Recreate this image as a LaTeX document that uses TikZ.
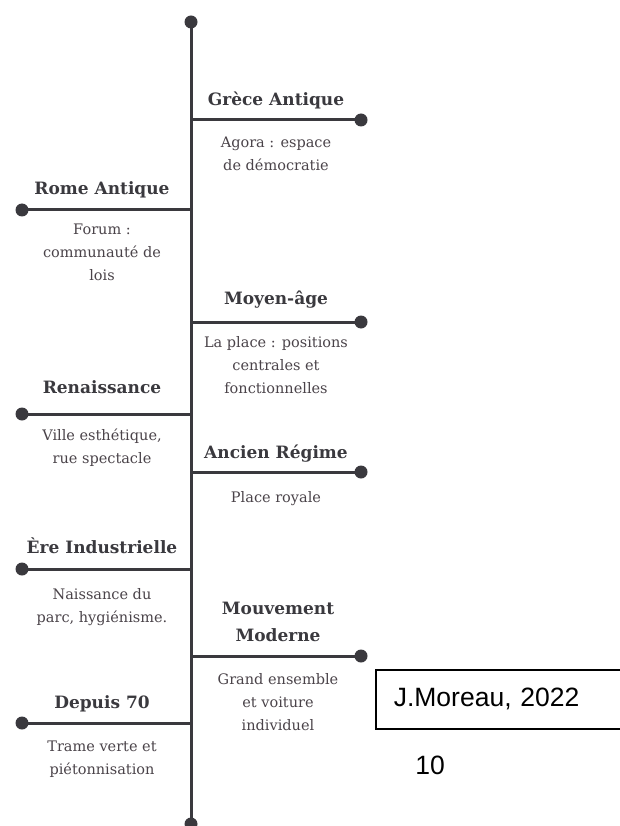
\documentclass[tikz,border=0pt]{standalone}
\usepackage{fontspec}
\setmainfont{DejaVu Serif}
\newfontfamily\credfont{Liberation Sans}
\usetikzlibrary{calc, positioning}
\definecolor{ink}{HTML}{3A393E}
\definecolor{txt}{HTML}{4A4349}

\tikzset{
    spine/.style={draw=ink, line width=3pt},
    knob/.style={circle, fill=ink, inner sep=0pt, minimum size=13pt},
    era/.style={font=\bfseries\fontsize{17}{27}\selectfont, text=ink, align=center, anchor=north, inner sep=0pt},
    note/.style={font=\fontsize{14.5}{23}\selectfont, text=txt, align=center, anchor=north, inner sep=0pt}
}

\begin{document}
\begin{tikzpicture}[x=1pt, y=-1pt]
                \useasboundingbox (0,0) rectangle (620,826);
                % the time axis
                \node[knob] (top) at (191,22) {};
                \node[knob] (bot) at (191,824) {};
                \draw[spine] (top.center) -- (bot.center);
                % branches: number / y / end x / text x / title top / title / note top / note
                \foreach \n/\y/\ex/\cx/\ty/\t/\dy/\d in {
                        1/120/361/276/92/{Grèce Antique}/137/{Agora : espace\\de démocratie},
                        2/210/22/102/181/{Rome Antique}/224/{Forum :\\communauté de\\lois},
                        3/322/361/276/291/{Moyen-âge}/336/{La place : positions\\centrales et\\fonctionnelles},
                        4/414/22/102/380/{Renaissance}/429/{Ville esthétique,\\rue spectacle},
                        5/472/361/276/445/{Ancien Régime}/491/{Place royale},
                        6/569/22/102/538/{Ère Industrielle}/588/{Naissance du\\parc, hygiénisme.},
                        7/656/361/278/602/{Mouvement\\Moderne}/673/{Grand ensemble\\et voiture\\individuel},
                        8/723/22/102/695/{Depuis 70}/741/{Trame verte et\\piétonnisation}}{
                    \coordinate (j\n) at (191,\y);
                    \node[knob] (k\n) at (\ex,\y) {};
                    \draw[spine] (j\n) -- (k\n.center);
                    \node[era] (t\n) at (\cx,\ty) {\t};
                    \node[note] (d\n) at (\cx,\dy) {\d};
                }
                % credit and page number
                \node[draw, line width=1.6pt, anchor=north west, minimum height=59pt, text width=220pt,
                    inner xsep=18pt, align=left, font=\credfont\fontsize{26.5}{30}\selectfont] (credit) at (375,669) {J.Moreau, 2022};
                \node[font=\credfont\fontsize{26.5}{30}\selectfont] (page) at (430,765) {10};
            \end{tikzpicture}
\end{document}
